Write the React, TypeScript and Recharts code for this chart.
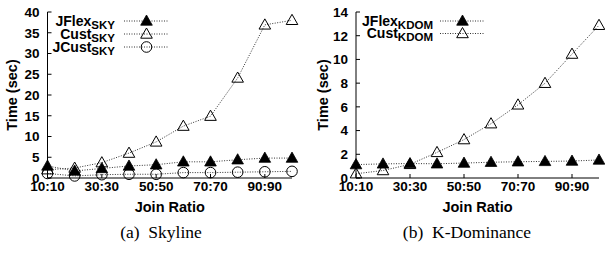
import React from 'react';
import { LineChart, Line, XAxis, YAxis, Legend } from 'recharts';

const ratios = ['10:10', '20:20', '30:30', '40:40', '50:50', '60:60', '70:70', '80:80', '90:90', '100:100'];
const ratioTicks = ['10:10', '30:30', '50:50', '70:70', '90:90'];

// Skyline (sec)
const skyJFlex = [2.9, 1.7, 2.3, 2.9, 3.2, 3.9, 3.9, 4.4, 4.8, 4.8];
const skyCust = [2.0, 2.4, 3.7, 6.0, 8.7, 12.5, 14.9, 24.1, 36.9, 38.0];
const skyJCust = [1.1, 0.5, 0.8, 0.9, 0.9, 1.3, 1.3, 1.4, 1.5, 1.6];
const skyTicks = [0, 5, 10, 15, 20, 25, 30, 35, 40];

// K-Dominance (sec)
const kdomJFlex = [1.13, 1.19, 1.22, 1.2, 1.26, 1.33, 1.37, 1.4, 1.43, 1.52];
const kdomCust = [0.36, 0.63, 1.15, 2.16, 3.24, 4.58, 6.17, 7.99, 10.45, 12.88];
const kdomTicks = [0, 2, 4, 6, 8, 10, 12, 14];

const font = '"Liberation Sans", Arial, Helvetica, sans-serif';
const serif = '"Liberation Serif", "Times New Roman", Times, serif';

type MarkerKind = 'triFill' | 'tri' | 'circle';

interface SeriesDef {
  key: string;
  name: string;
  sub: string;
  marker: MarkerKind;
}

function Marker({ cx, cy, kind }: { cx: number; cy: number; kind: MarkerKind }) {
  if (cx == null || cy == null) return null;
  if (kind === 'circle') {
    return <circle cx={cx} cy={cy} r={5.3} fill="none" stroke="#000" strokeWidth={1} />;
  }
  const pts = `${cx},${cy - 6} ${cx - 5.8},${cy + 4.2} ${cx + 5.8},${cy + 4.2}`;
  return kind === 'triFill' ? (
    <polygon points={pts} fill="#000" stroke="#000" strokeWidth={0.8} />
  ) : (
    <polygon points={pts} fill="none" stroke="#000" strokeWidth={1} />
  );
}

interface PanelProps {
  left: number;
  width: number;
  yAxisWidth: number;
  marginRight: number;
  yLabelOffset: number;
  yMax: number;
  yTicks: number[];
  series: SeriesDef[];
  values: number[][];
  legendTextRight: number;
  legendLine: [number, number];
  legendRows: number[];
  caption: string;
  captionCenter: number;
}

function Panel(p: PanelProps) {
  const data = ratios.map((r, i) => {
    const row: Record<string, string | number> = { ratio: r };
    p.series.forEach((s, j) => {
      row[s.key] = p.values[j][i];
    });
    return row;
  });

  const renderLegend = () => (
    <svg width={p.width} height={60} style={{ display: 'block' }}>
      {p.series.map((s, i) => {
        const y = p.legendRows[i];
        const mid = (p.legendLine[0] + p.legendLine[1]) / 2;
        return (
          <g key={s.key}>
            <text
              x={p.legendTextRight}
              y={y + 4.5}
              textAnchor="end"
              fontFamily={font}
              fontWeight="bold"
              fontSize={14}
              fill="#000"
            >
              {s.name}
              <tspan fontSize={11.5} dy={3}>
                {s.sub}
              </tspan>
            </text>
            <line
              x1={p.legendLine[0]}
              x2={p.legendLine[1]}
              y1={y}
              y2={y}
              stroke="#333"
              strokeWidth={1}
              strokeDasharray="1 1.5"
            />
            <Marker cx={mid} cy={y} kind={s.marker} />
          </g>
        );
      })}
    </svg>
  );

  const tickStyle = { fontSize: 13.5, fontWeight: 'bold', fill: '#000', fontFamily: font };
  const titleStyle = { fill: '#000', fontSize: 14.5, fontWeight: 'bold', fontFamily: font };

  return (
    <div style={{ position: 'absolute', left: p.left, top: 0 }}>
      <LineChart
        width={p.width}
        height={225}
        data={data}
        margin={{ top: 12, right: p.marginRight, left: 0, bottom: 2 }}
      >
        <XAxis
          dataKey="ratio"
          ticks={ratioTicks}
          interval={0}
          tickSize={-4}
          tickMargin={7}
          height={45}
          tick={tickStyle}
          axisLine={{ stroke: '#000' }}
          tickLine={{ stroke: '#000' }}
          label={{ value: 'Join Ratio', position: 'insideBottom', offset: 11, ...titleStyle }}
        />
        <XAxis
          xAxisId="top"
          orientation="top"
          dataKey="ratio"
          ticks={ratioTicks}
          interval={0}
          tickSize={-4}
          height={0}
          tick={false}
          axisLine={{ stroke: '#000' }}
          tickLine={{ stroke: '#000' }}
        />
        <YAxis
          type="number"
          domain={[0, p.yMax]}
          ticks={p.yTicks}
          interval={0}
          width={p.yAxisWidth}
          tickSize={-4}
          tickMargin={12}
          tick={tickStyle}
          axisLine={{ stroke: '#000' }}
          tickLine={{ stroke: '#000' }}
          label={{
            value: 'Time (sec)',
            angle: -90,
            position: 'insideLeft',
            offset: p.yLabelOffset,
            ...titleStyle,
            style: { textAnchor: 'middle' },
          }}
        />
        <YAxis
          yAxisId="right"
          orientation="right"
          type="number"
          domain={[0, p.yMax]}
          ticks={p.yTicks}
          interval={0}
          width={0}
          tickSize={-4}
          tick={false}
          axisLine={{ stroke: '#000' }}
          tickLine={{ stroke: '#000' }}
        />
        <Legend
          layout="horizontal"
          verticalAlign="middle"
          align="center"
          content={renderLegend}
          wrapperStyle={{ left: 0, top: 0, width: p.width, height: 60 }}
        />
        {p.series.map((s) => (
          <Line
            key={s.key}
            dataKey={s.key}
            name={s.name}
            type="linear"
            stroke="#333"
            strokeWidth={1}
            strokeDasharray="1 1.5"
            isAnimationActive={false}
            activeDot={false}
            dot={(d: any) => <Marker key={`${s.key}-${d.index}`} cx={d.cx} cy={d.cy} kind={s.marker} />}
          />
        ))}
      </LineChart>
      <div
        style={{
          position: 'absolute',
          left: p.captionCenter - p.left - 100,
          top: 222,
          width: 200,
          textAlign: 'center',
          fontFamily: serif,
          fontSize: 17.5,
          color: '#000',
          lineHeight: '20px',
          whiteSpace: 'pre',
        }}
      >
        {p.caption}
      </div>
    </div>
  );
}

const skySeries: SeriesDef[] = [
  { key: 'jflex', name: 'JFlex', sub: 'SKY', marker: 'triFill' },
  { key: 'cust', name: 'Cust', sub: 'SKY', marker: 'tri' },
  { key: 'jcust', name: 'JCust', sub: 'SKY', marker: 'circle' },
];

const kdomSeries: SeriesDef[] = [
  { key: 'jflex', name: 'JFlex', sub: 'KDOM', marker: 'triFill' },
  { key: 'cust', name: 'Cust', sub: 'KDOM', marker: 'tri' },
];

export default function App() {
  return (
    <div style={{ position: 'absolute', left: 0, top: 0, width: 605, height: 255, background: '#fff' }}>
      <Panel
        left={0}
        width={300}
        yAxisWidth={47.5}
        marginRight={8}
        yLabelOffset={12}
        yMax={40}
        yTicks={skyTicks}
        series={skySeries}
        values={[skyJFlex, skyCust, skyJCust]}
        legendTextRight={115}
        legendLine={[124, 169]}
        legendRows={[21, 34, 47]}
        caption={'(a)  Skyline'}
        captionCenter={161}
      />
      <Panel
        left={300}
        width={305}
        yAxisWidth={56}
        marginRight={6}
        yLabelOffset={23}
        yMax={14}
        yTicks={kdomTicks}
        series={kdomSeries}
        values={[kdomJFlex, kdomCust]}
        legendTextRight={133}
        legendLine={[140, 185]}
        legendRows={[21, 33.5]}
        caption={'(b)  K-Dominance'}
        captionCenter={467}
      />
    </div>
  );
}
